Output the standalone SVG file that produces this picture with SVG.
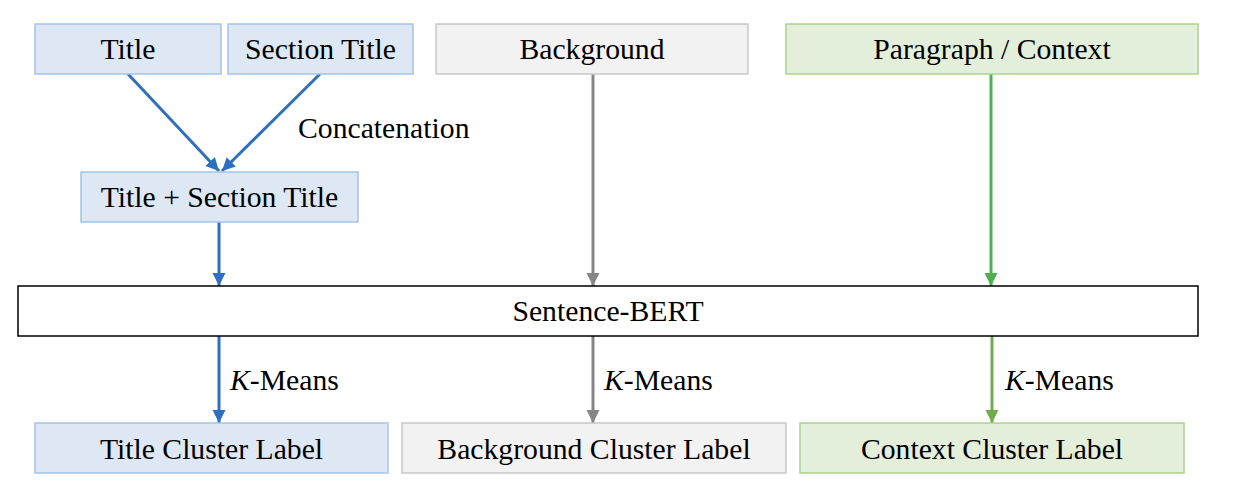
<svg xmlns="http://www.w3.org/2000/svg" width="1240" height="496" viewBox="0 0 1240 496">
<style>
text{font-family:"Liberation Serif","Times New Roman",serif;font-size:29.7px;fill:#000;text-anchor:middle}
.lbl{text-anchor:start}
.blue rect{fill:#dee8f5;stroke:#a4c3e8;stroke-width:1.5}
.gray rect{fill:#f2f2f2;stroke:#c8c8c8;stroke-width:1.5}
.green rect{fill:#e3efdb;stroke:#aad38e;stroke-width:1.5}
.white rect{fill:#fff;stroke:#000;stroke-width:1.5}
.cb{stroke:#2f6fbf;stroke-width:3;fill:none}
.cg{stroke:#858585;stroke-width:3;fill:none}
.cgr{stroke:#4cb050;stroke-width:3;fill:none}
.cgr2{stroke:#72ac4e;stroke-width:3;fill:none}
</style>
<defs>
<marker id="ab" markerUnits="userSpaceOnUse" markerWidth="14" markerHeight="14" refX="13" refY="6.5" orient="auto"><path d="M0,0 L13,6.5 L0,13 Z" fill="#2f6fbf"/></marker>
<marker id="ag" markerUnits="userSpaceOnUse" markerWidth="14" markerHeight="14" refX="13" refY="6.5" orient="auto"><path d="M0,0 L13,6.5 L0,13 Z" fill="#858585"/></marker>
<marker id="agr" markerUnits="userSpaceOnUse" markerWidth="14" markerHeight="14" refX="13" refY="6.5" orient="auto"><path d="M0,0 L13,6.5 L0,13 Z" fill="#4cb050"/></marker>
<marker id="agr2" markerUnits="userSpaceOnUse" markerWidth="14" markerHeight="14" refX="13" refY="6.5" orient="auto"><path d="M0,0 L13,6.5 L0,13 Z" fill="#72ac4e"/></marker>
</defs>
<g id="connectors">
<path class="cb" d="M128,74 L219,171" marker-end="url(#ab)"/>
<path class="cb" d="M320,74 L222,171" marker-end="url(#ab)"/>
<path class="cb" d="M219,222 L219,286" marker-end="url(#ab)"/>
<path class="cg" d="M593,74 L593,286" marker-end="url(#ag)"/>
<path class="cgr" d="M991,74 L991,286" marker-end="url(#agr)"/>
<path class="cb" d="M219,336 L219,423" marker-end="url(#ab)"/>
<path class="cg" d="M593,336 L593,423" marker-end="url(#ag)"/>
<path class="cgr2" d="M992,336 L992,423" marker-end="url(#agr2)"/>
<text class="lbl" x="298" y="138">Concatenation</text>
<text class="lbl" x="230" y="390"><tspan font-style="italic">K</tspan>-Means</text>
<text class="lbl" x="604" y="390"><tspan font-style="italic">K</tspan>-Means</text>
<text class="lbl" x="1005" y="390"><tspan font-style="italic">K</tspan>-Means</text>
</g>
<g id="title" class="blue"><rect x="35" y="24" width="186" height="50"/><text x="128" y="59">Title</text></g>
<g id="section-title" class="blue"><rect x="228" y="24" width="185" height="50"/><text x="320.5" y="59">Section Title</text></g>
<g id="background" class="gray"><rect x="436" y="24" width="312" height="50"/><text x="592" y="59">Background</text></g>
<g id="paragraph" class="green"><rect x="786" y="24" width="412" height="50"/><text x="992" y="59">Paragraph / Context</text></g>
<g id="title-section" class="blue"><rect x="81" y="172" width="277" height="50"/><text x="219.5" y="207">Title + Section Title</text></g>
<g id="sbert" class="white"><rect x="18" y="286" width="1180" height="50"/><text x="608" y="321">Sentence-BERT</text></g>
<g id="title-cluster" class="blue"><rect x="35" y="423" width="353" height="50"/><text x="211.5" y="459">Title Cluster Label</text></g>
<g id="background-cluster" class="gray"><rect x="402" y="423" width="384" height="50"/><text x="594" y="459">Background Cluster Label</text></g>
<g id="context-cluster" class="green"><rect x="800" y="423" width="384" height="50"/><text x="992" y="459">Context Cluster Label</text></g>
</svg>
